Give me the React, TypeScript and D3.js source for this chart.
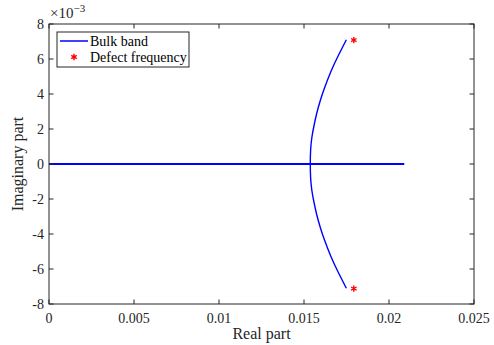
import React from 'react';
import * as d3 from 'd3';

// horizontal part of the bulk band (real axis)
const bandLineX = [0, 0.0209];
const bandLineY = [0, 0];

// arc of the bulk band (top half, mirrored below)
const arcReal = [0.01749, 0.01702, 0.01659, 0.01619, 0.01595, 0.01575, 0.01559, 0.01546, 0.01539, 0.01537];
const arcImag = [7.10e-3, 6.2e-3, 5.3e-3, 4.3e-3, 3.6e-3, 2.9e-3, 2.2e-3, 1.5e-3, 0.8e-3, 0];

const defectReal = [0.01793, 0.01793];
const defectImag = [7.08e-3, -7.12e-3];

const xTicks = [0, 0.005, 0.01, 0.015, 0.02, 0.025];
const xTickLabels = ['0', '0.005', '0.01', '0.015', '0.02', '0.025'];
const yTicks = [-8, -6, -4, -2, 0, 2, 4, 6, 8];

const W = 494;
const H = 345;
const margin = { top: 24, right: 20, bottom: 41, left: 49 };
const serif = { fontFamily: "'Liberation Serif', 'DejaVu Serif', serif" };
const axisColor = '#262626';

export default function App() {
  const innerW = W - margin.left - margin.right;
  const innerH = H - margin.top - margin.bottom;
  const x = d3.scaleLinear().domain([0, 0.025]).range([margin.left, margin.left + innerW]);
  const y = d3.scaleLinear().domain([-8e-3, 8e-3]).range([margin.top + innerH, margin.top]);

  const line = d3.line<[number, number]>().x(d => x(d[0])).y(d => y(d[1]));

  const topArc: [number, number][] = arcReal.map((r, i) => [r, arcImag[i]]);
  const revR = arcReal.slice().reverse();
  const revI = arcImag.slice().reverse();
  const bottomArc: [number, number][] = revR.map((r, i) => [r, -revI[i]]);
  const arcPts = topArc.concat(bottomArc.slice(1));
  const horiz: [number, number][] = bandLineX.map((v, i) => [v, bandLineY[i]]);

  const curved = d3.line<[number, number]>().x(d => x(d[0])).y(d => y(d[1])).curve(d3.curveNatural);
  const star = d3.symbol().type(d3.symbolAsterisk).size(28)();

  const x0 = margin.left, x1 = margin.left + innerW, y0 = margin.top, y1 = margin.top + innerH;
  const tl = 4.5;

  return (
    <svg width={W} height={H} style={{ position: 'absolute', left: 0, top: 0, background: '#fff' }}>
      <rect x={0} y={0} width={W} height={H} fill="#fff" />
      {/* data */}
      <path d={line(horiz) || ''} fill="none" stroke="#0000ff" strokeWidth={2} />
      <path d={curved(arcPts) || ''} fill="none" stroke="#0000ff" strokeWidth={1.4} />
      {defectReal.map((r, i) => (
        <path key={i} d={star || ''} transform={`translate(${x(r)},${y(defectImag[i])})`}
          fill="none" stroke="#ff0000" strokeWidth={1.4} />
      ))}

      {/* box */}
      <rect x={x0} y={y0} width={innerW} height={innerH} fill="none" stroke={axisColor} strokeWidth={1} />
      {xTicks.map((t, i) => (
        <g key={'x' + i}>
          <line x1={x(t)} x2={x(t)} y1={y1} y2={y1 - tl} stroke={axisColor} />
          <line x1={x(t)} x2={x(t)} y1={y0} y2={y0 + tl} stroke={axisColor} />
          <text x={x(t)} y={y1 + 19} textAnchor="middle" style={serif} fontSize={14} fill={axisColor}>
            {xTickLabels[i]}
          </text>
        </g>
      ))}
      {yTicks.map((t, i) => (
        <g key={'y' + i}>
          <line x1={x0} x2={x0 + tl} y1={y(t * 1e-3)} y2={y(t * 1e-3)} stroke={axisColor} />
          <line x1={x1} x2={x1 - tl} y1={y(t * 1e-3)} y2={y(t * 1e-3)} stroke={axisColor} />
          <text x={x0 - 5} y={y(t * 1e-3) + 4.5} textAnchor="end" style={serif} fontSize={14} fill={axisColor}>
            {String(t)}
          </text>
        </g>
      ))}
      <text x={50} y={18} style={serif} fontSize={15} fill={axisColor}>
        ×10<tspan dy={-6} fontSize={11}>−3</tspan>
      </text>

      {/* axis labels */}
      <text x={(x0 + x1) / 2} y={339} textAnchor="middle" style={serif} fontSize={16} fill={axisColor}>Real part</text>
      <text transform={`translate(23,${(y0 + y1) / 2}) rotate(-90)`} textAnchor="middle" style={serif} fontSize={16} fill={axisColor}>Imaginary part</text>

      {/* legend */}
      <rect x={57} y={32} width={132} height={35} fill="#fff" stroke={axisColor} strokeWidth={1} />
      <line x1={60} x2={88} y1={41} y2={41} stroke="#0000ff" strokeWidth={1.5} />
      <text x={90} y={45.5} style={serif} fontSize={14} fill="#000">Bulk band</text>
      <path d={star || ''} transform="translate(74,57)" fill="none" stroke="#ff0000" strokeWidth={1.4} />
      <text x={90} y={61.5} style={serif} fontSize={14} fill="#000">Defect frequency</text>
    </svg>
  );
}
